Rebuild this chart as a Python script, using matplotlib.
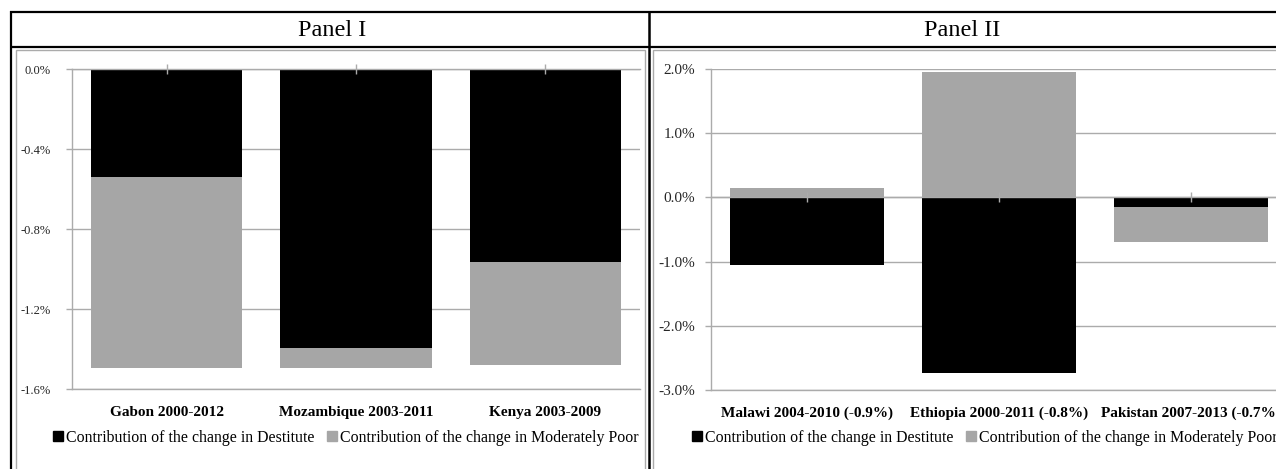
import matplotlib
matplotlib.use("Agg")
import matplotlib.pyplot as plt
from matplotlib.lines import Line2D
from matplotlib.patches import Patch, Rectangle
from matplotlib.ticker import FuncFormatter
import numpy as np

# ---------------- data ----------------
panel1_categories = ["Gabon 2000-2012", "Mozambique 2003-2011", "Kenya 2003-2009"]
panel1_destitute = [-0.54, -1.395, -0.965]
panel1_moderate = [-0.955, -0.10, -0.515]
panel1_ticks = [0.0, -0.4, -0.8, -1.2, -1.6]

panel2_categories = ["Malawi 2004-2010 (-0.9%)", "Ethiopia 2000-2011 (-0.8%)", "Pakistan 2007-2013 (-0.7%)"]
panel2_destitute = [-1.06, -2.73, -0.15]
panel2_moderate = [0.15, 1.96, -0.55]
panel2_ticks = [2.0, 1.0, 0.0, -1.0, -2.0, -3.0]

legend_labels = ["Contribution of the change in Destitute",
                 "Contribution of the change in Moderately Poor"]
panel_titles = ["Panel I", "Panel II"]

# ---------------- style ----------------
W, H = 1276, 469
FONT = "Liberation Serif"
plt.rcParams["font.family"] = [FONT, "DejaVu Serif"]
BLACK = "#000000"
GREY_BAR = "#A6A6A6"
GRID = "#ABABAB"
TXT = "#262626"

fig = plt.figure(figsize=(W / 100, H / 100), dpi=100)


def fx(x):
    return x / W


def fy(y):
    return 1 - y / H


def ax_rect(x0, y0, x1, y1):
    return [fx(x0), fy(y1), fx(x1) - fx(x0), fy(y0) - fy(y1)]


def hline(x0, x1, y, color, lw):
    fig.add_artist(Line2D([fx(x0), fx(x1)], [fy(y), fy(y)], color=color, lw=lw,
                          transform=fig.transFigure, solid_capstyle="butt"))


def vline(x, y0, y1, color, lw):
    fig.add_artist(Line2D([fx(x), fx(x)], [fy(y0), fy(y1)], color=color, lw=lw,
                          transform=fig.transFigure, solid_capstyle="butt"))


# chart frames (grey)
fig.add_artist(Rectangle((fx(16), fy(480)), fx(645) - fx(16), fy(50) - fy(480),
                         fill=False, edgecolor=GRID, lw=1.0, transform=fig.transFigure))
fig.add_artist(Rectangle((fx(653), fy(480)), fx(1300) - fx(653), fy(50) - fy(480),
                         fill=False, edgecolor=GRID, lw=1.0, transform=fig.transFigure))

# table borders (black)
hline(10, W + 5, 12, BLACK, 1.6)
hline(10, W + 5, 47, BLACK, 1.6)
vline(11, 11, H + 5, BLACK, 1.6)
vline(649, 11, H + 5, BLACK, 1.8)

# panel headers
fig.text(fx(332), fy(30), panel_titles[0], ha="center", va="center",
         fontsize=17.5, color=BLACK)
fig.text(fx(962), fy(30), panel_titles[1], ha="center", va="center",
         fontsize=17.5, color=BLACK)


def draw_panel(rect, cats, dest, mod, ticks, ylim, legend_center, ypad, ysize):
    ax = fig.add_axes(rect)
    x = np.arange(len(cats))
    dest = np.array(dest)
    mod = np.array(mod)
    bottom_mod = np.where(np.sign(mod) == np.sign(dest), dest, 0.0)
    ax.bar(x, dest, width=0.8, color=BLACK, zorder=3)
    ax.bar(x, mod, bottom=bottom_mod, width=0.8, color=GREY_BAR, zorder=3)
    ax.set_xlim(-0.5, len(cats) - 0.5)
    ax.set_ylim(*ylim)
    ax.set_yticks(ticks)
    ax.yaxis.set_major_formatter(FuncFormatter(lambda v, p: f"{v:.1f}%"))
    ax.grid(axis="y", color=GRID, lw=1.0, zorder=0)
    for s in ["top", "right"]:
        ax.spines[s].set_visible(False)
    for s in ["left", "bottom"]:
        ax.spines[s].set_color(GRID)
        ax.spines[s].set_linewidth(1.0)
    ax.tick_params(axis="y", direction="out", length=4, width=1.0, color=GRID,
                   labelsize=ysize, labelcolor=TXT, pad=ypad)
    ax.set_xticks(x)
    ax.set_xticklabels(cats, fontsize=11, fontweight="bold", color=BLACK)
    ax.tick_params(axis="x", length=0, pad=12)
    # category axis crossing at zero
    zero_frac = (0 - ylim[0]) / (ylim[1] - ylim[0])
    sec = ax.secondary_xaxis(zero_frac)
    sec.set_zorder(5)
    sec.set_xticks(x)
    sec.set_xticklabels([])
    for sp in sec.spines.values():
        sp.set_color(GRID)
        sp.set_linewidth(1.0)
    sec.tick_params(axis="x", direction="inout", length=7, width=1.0, color=GRID)
    handles = [Patch(facecolor=BLACK, edgecolor=BLACK), Patch(facecolor=GREY_BAR, edgecolor=GREY_BAR)]
    fig.legend(handles, legend_labels, loc="center",
               bbox_to_anchor=(fx(legend_center), fy(438)), ncol=2, frameon=False,
               fontsize=11.4, handlelength=0.6, handleheight=0.6, handletextpad=0.2,
               columnspacing=0.8, borderaxespad=0, borderpad=0)
    return ax


draw_panel(ax_rect(72, 69, 640, 389), panel1_categories, panel1_destitute, panel1_moderate,
           panel1_ticks, (-1.6, 0.0), 346, 11.5, 9)
draw_panel(ax_rect(711, 69, 1287, 390), panel2_categories, panel2_destitute, panel2_moderate,
           panel2_ticks, (-3.0, 2.0), 985, 7.5, 11)

fig.savefig("out.png", dpi=100)
